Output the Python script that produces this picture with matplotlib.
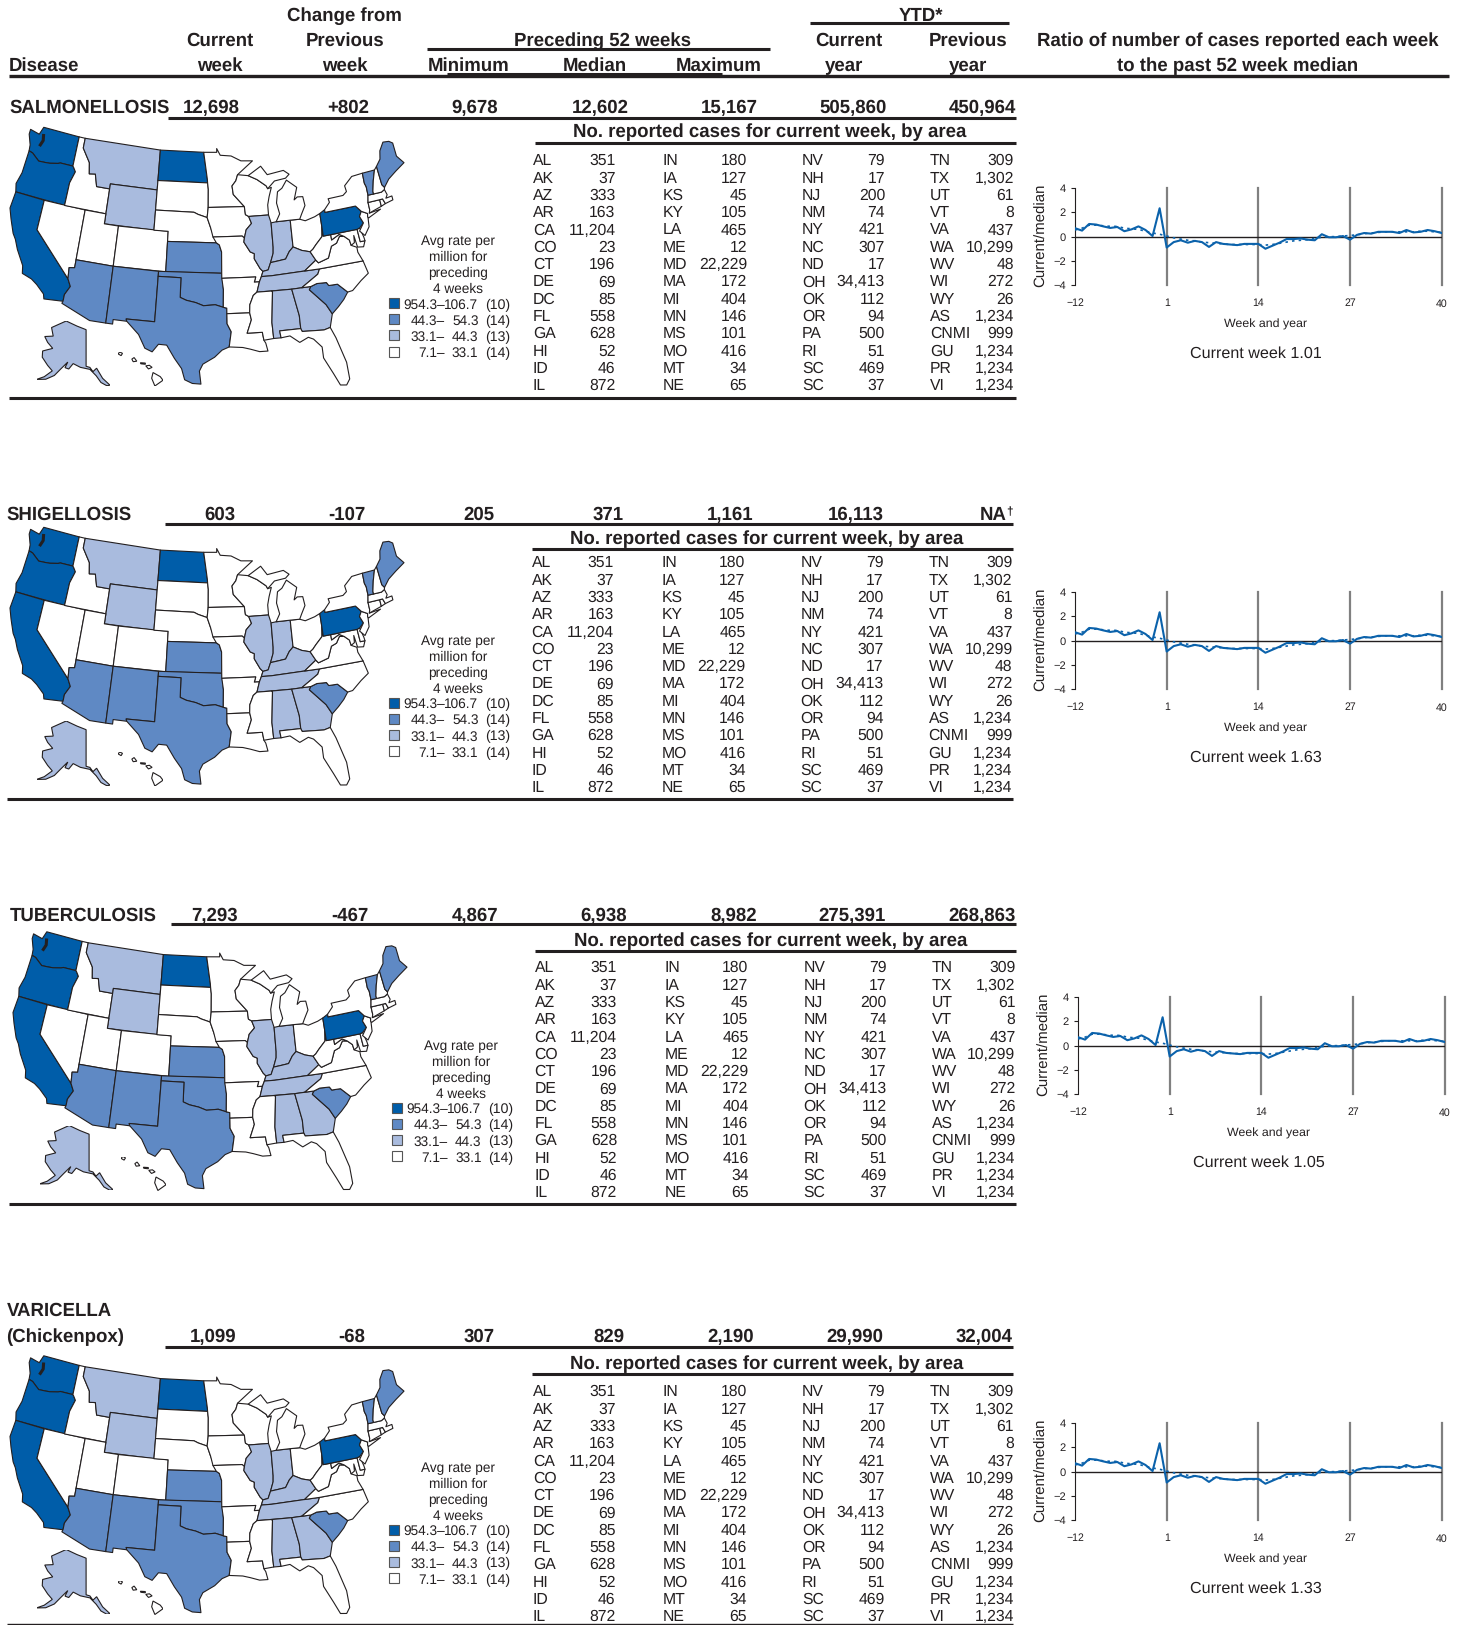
import numpy as np
import matplotlib
matplotlib.use("Agg")
import matplotlib.pyplot as plt
from matplotlib.patches import Rectangle

plt.rcParams['font.family'] = ['Liberation Sans', 'DejaVu Sans']
plt.rcParams['text.hinting'] = 'none'
plt.rcParams['text.hinting_factor'] = 8

W = 1460
H = 1625
INK = '#231f20'
BLUES = ['#005da9', '#5f89c4', '#a9bbde', '#ffffff']

# table values
DISEASES = [["SALMONELLOSIS"], ["SHIGELLOSIS"], ["TUBERCULOSIS"], ["VARICELLA", "(Chickenpox)"]]
CURRENT_WEEK = ["12,698", "603", "7,293", "1,099"]
CHANGE = ["+802", "-107", "-467", "-68"]
MINIMUM = ["9,678", "205", "4,867", "307"]
MEDIAN = ["12,602", "371", "6,938", "829"]
MAXIMUM = ["15,167", "1,161", "8,982", "2,190"]
YTD_CURRENT = ["505,860", "16,113", "275,391", "29,990"]
YTD_PREVIOUS = ["450,964", "NA", "268,863", "32,004"]
RATIO_NOW = ["1.01", "1.63", "1.05", "1.33"]

AREA_1 = ["AL", "AK", "AZ", "AR", "CA", "CO", "CT", "DE", "DC", "FL", "GA", "HI", "ID", "IL"]
COUNT_1 = ["351", "37", "333", "163", "11,204", "23", "196", "69", "85", "558", "628", "52", "46", "872"]
AREA_2 = ["IN", "IA", "KS", "KY", "LA", "ME", "MD", "MA", "MI", "MN", "MS", "MO", "MT", "NE"]
COUNT_2 = ["180", "127", "45", "105", "465", "12", "22,229", "172", "404", "146", "101", "416", "34", "65"]
AREA_3 = ["NV", "NH", "NJ", "NM", "NY", "NC", "ND", "OH", "OK", "OR", "PA", "RI", "SC", "SC"]
COUNT_3 = ["79", "17", "200", "74", "421", "307", "17", "34,413", "112", "94", "500", "51", "469", "37"]
AREA_4 = ["TN", "TX", "UT", "VT", "VA", "WA", "WV", "WI", "WY", "AS", "CNMI", "GU", "PR", "VI"]
COUNT_4 = ["309", "1,302", "61", "8", "437", "10,299", "48", "272", "26", "1,234", "999", "1,234", "1,234", "1,234"]

LEGEND_LOW = ["954.3–", "44.3–", "33.1–", "7.1–"]
LEGEND_HIGH = ["106.7", "54.3", "44.3", "33.1"]
LEGEND_N = ["(10)", "(14)", "(13)", "(14)"]
LEGEND_TITLE = ["Avg rate per", "million for", "preceding", "4 weeks"]

# weekly ratio series, week -12 to 40
WEEKS = np.arange(-12, 41)
RATIO = [0.7, 0.5, 1.05, 1.0, 0.85, 0.72, 0.8, 0.45, 0.6, 0.85, 0.55, 0.05, 2.35, -0.9,
         -0.45, -0.3, -0.5, -0.35, -0.45, -0.85, -0.45, -0.6, -0.65, -0.7, -0.6, -0.6, -0.6,
         -1.0, -0.75, -0.5, -0.2, -0.2, -0.15, -0.25, -0.3, 0.2, -0.05, -0.05, 0.05, -0.25,
         0.15, 0.3, 0.25, 0.4, 0.4, 0.4, 0.3, 0.55, 0.35, 0.4, 0.55, 0.45, 0.3]
TREND = [0.55, 0.7, 0.95, 0.95, 0.9, 0.85, 0.85, 0.7, 0.65, 0.6, 0.45, 0.3, 0.2, 0.05,
         -0.1, -0.2, -0.3, -0.35, -0.45, -0.5, -0.55, -0.6, -0.65, -0.65, -0.65, -0.65, -0.65,
         -0.7, -0.65, -0.55, -0.45, -0.35, -0.3, -0.25, -0.15, -0.05, 0.0, 0.0, 0.05, 0.1,
         0.15, 0.25, 0.3, 0.35, 0.4, 0.4, 0.4, 0.4, 0.4, 0.45, 0.45, 0.4, 0.35]
WEEK_TICKS = [-12, 1, 14, 27, 40]
RATIO_TICKS = [-4, -2, 0, 2, 4]

# rate class of each state, the rest are white
CLASS_1 = ["WA", "OR", "CA", "ND", "PA"]
CLASS_2 = ["KS", "OK", "TX", "NM", "AZ", "SC", "ME", "VT"]
CLASS_3 = ["MT", "WY", "IL", "IN", "KY", "TN", "AL", "GA", "AK"]

# state outlines, lon/lat
STATES = {
    "WA": [(-124.7,48.4),(-123.2,48.2),(-122.8,49),(-117.03,49),(-117.04,46),(-118.98,46),(-119.3,45.9),(-120.5,45.7),(-121.2,45.65),(-122.2,45.6),(-122.8,45.9),(-123.4,46.2),(-124,46.3),(-124.1,46.9),(-124.7,47.9)],
    "OR": [(-124,46.3),(-123.4,46.2),(-122.8,45.9),(-122.2,45.6),(-121.2,45.65),(-120.5,45.7),(-119.3,45.9),(-118.98,46),(-117.04,46),(-116.9,45.9),(-116.5,45.5),(-117,44.3),(-117.03,42),(-124.2,42),(-124.5,42.8),(-124.1,44)],
    "CA": [(-124.2,42),(-120,42),(-120,39),(-114.63,35),(-114.15,34.3),(-114.7,33.4),(-114.72,32.72),(-117.12,32.53),(-117.3,33),(-118.4,33.75),(-119.2,34.15),(-120.5,34.45),(-120.7,35.2),(-121.9,36.6),(-122.5,37.5),(-123,38),(-123.8,39.3),(-124.35,40.3)],
    "NV": [(-120,42),(-114.04,42),(-114.04,36.2),(-114.75,36.1),(-114.63,35),(-120,39)],
    "ID": [(-117.03,49),(-116.05,49),(-116.05,48),(-114.7,46.7),(-114.4,45.6),(-113.5,45.7),(-113,44.5),(-111.05,44.5),(-111.05,42),(-117.03,42),(-117,44.3),(-116.5,45.5),(-116.9,45.9),(-117.04,46)],
    "MT": [(-116.05,49),(-104.05,49),(-104.05,45),(-111.05,45),(-111.05,44.5),(-113,44.5),(-113.5,45.7),(-114.4,45.6),(-114.7,46.7),(-116.05,48)],
    "WY": [(-111.05,45),(-104.05,45),(-104.05,41),(-111.05,41)],
    "UT": [(-114.04,42),(-111.05,42),(-111.05,41),(-109.05,41),(-109.05,37),(-114.04,37)],
    "CO": [(-109.05,41),(-102.05,41),(-102.05,37),(-109.05,37)],
    "AZ": [(-114.04,37),(-109.05,37),(-109.05,31.33),(-111.07,31.33),(-114.81,32.5),(-114.72,32.72),(-114.7,33.4),(-114.15,34.3),(-114.63,35),(-114.75,36.1),(-114.04,36.2)],
    "NM": [(-109.05,37),(-103,37),(-103.05,32),(-106.6,32),(-106.5,31.78),(-108.2,31.78),(-108.2,31.33),(-109.05,31.33)],
    "ND": [(-104.05,49),(-97.2,49),(-96.6,46.3),(-96.56,45.94),(-104.05,45.94)],
    "SD": [(-104.05,45.94),(-96.56,45.94),(-96.45,45.3),(-96.45,43.5),(-96.6,42.5),(-97.9,42.8),(-98.5,43),(-104.05,43)],
    "NE": [(-104.05,43),(-98.5,43),(-97.9,42.8),(-96.6,42.5),(-96.1,41.5),(-95.3,40),(-102.05,40),(-102.05,41),(-104.05,41)],
    "KS": [(-102.05,40),(-95.3,40),(-94.9,39.8),(-94.6,39.1),(-94.62,37),(-102.05,37)],
    "OK": [(-103,37),(-94.62,37),(-94.43,35.4),(-94.48,33.64),(-95.5,33.9),(-97,33.8),(-98,34.1),(-99.2,34.3),(-100,34.56),(-100,36.5),(-103,36.5)],
    "TX": [(-106.6,32),(-103.05,32),(-103,36.5),(-100,36.5),(-100,34.56),(-99.2,34.3),(-98,34.1),(-97,33.8),(-95.5,33.9),(-94.48,33.64),(-94.04,33.55),(-94.04,32),(-93.55,31.2),(-93.84,29.7),(-94.7,29.4),(-95.6,28.7),(-97,28),(-97.4,27.3),(-97.2,26),(-98.2,26.05),(-99.1,26.4),(-99.5,27.5),(-100.4,28.5),(-101.4,29.77),(-102.4,29.8),(-103.1,29),(-104,29.3),(-104.9,30.6),(-106.5,31.78)],
    "MN": [(-97.2,49),(-95.15,49),(-95.15,49.38),(-94.6,48.7),(-92.9,48.6),(-91.4,48.07),(-89.6,48),(-92,46.7),(-92.3,46.1),(-92.9,45.6),(-92.75,44.75),(-91.2,43.5),(-96.45,43.5),(-96.45,45.3),(-96.56,45.94),(-96.6,46.3)],
    "IA": [(-96.45,43.5),(-91.2,43.5),(-91.1,42.7),(-90.65,42.5),(-90.3,41.8),(-91.1,41.2),(-91.4,40.4),(-91.7,40.6),(-95.77,40.58),(-96.1,41.5),(-96.6,42.5)],
    "MO": [(-95.77,40.58),(-91.7,40.6),(-91.4,40.4),(-91.5,40),(-90.7,39),(-90.15,38.8),(-90.2,38.3),(-89.5,37.3),(-89.15,37),(-89.4,36.5),(-89.7,36),(-90.37,36),(-90.15,36.5),(-94.62,36.5),(-94.62,37),(-94.6,39.1),(-94.9,39.8),(-95.3,40)],
    "AR": [(-94.62,36.5),(-90.15,36.5),(-90.37,36),(-89.7,36),(-90.1,35),(-90.6,34.7),(-91.1,33.8),(-91.17,33),(-94.04,33),(-94.04,33.55),(-94.48,33.64),(-94.43,35.4)],
    "LA": [(-94.04,33),(-91.17,33),(-91,32.3),(-91.6,31),(-89.73,31),(-89.6,30.2),(-89.4,29.9),(-89.2,29.1),(-90.2,29.1),(-91.3,29.4),(-92.2,29.6),(-93.84,29.7),(-93.55,31.2),(-94.04,32)],
    "WI": [(-92,46.7),(-90.4,46.55),(-89.1,46.1),(-87.8,45.4),(-87.6,45.1),(-87.05,45.2),(-87.5,44.3),(-87.8,43.5),(-87.8,42.5),(-90.65,42.5),(-91.1,42.7),(-91.2,43.5),(-92.75,44.75),(-92.9,45.6),(-92.3,46.1)],
    "IL": [(-90.65,42.5),(-87.8,42.5),(-87.53,41.7),(-87.53,39.3),(-87.6,38.7),(-88.05,37.8),(-88.45,37.1),(-89.15,37),(-89.5,37.3),(-90.2,38.3),(-90.15,38.8),(-90.7,39),(-91.5,40),(-91.4,40.4),(-91.1,41.2),(-90.3,41.8)],
    "IN": [(-87.53,41.7),(-86.8,41.76),(-84.8,41.76),(-84.82,39.1),(-85.4,38.7),(-86,38),(-87,37.9),(-88.05,37.8),(-87.6,38.7),(-87.53,39.3)],
    "OH": [(-84.8,41.76),(-83.45,41.73),(-82.7,41.5),(-81.3,41.75),(-80.52,41.98),(-80.52,40.64),(-80.7,39.7),(-81.7,39),(-82.2,38.6),(-82.6,38.4),(-83.7,38.65),(-84.82,39.1)],
    "KY": [(-89.4,36.5),(-89.15,37),(-88.45,37.1),(-88.05,37.8),(-87,37.9),(-86,38),(-85.4,38.7),(-84.82,39.1),(-83.7,38.65),(-82.6,38.4),(-82,37.5),(-83.67,36.6),(-88.05,36.5)],
    "TN": [(-90.1,35),(-89.7,36),(-89.4,36.5),(-88.05,36.5),(-83.67,36.6),(-81.68,36.59),(-82,36.1),(-84.3,35),(-85.6,34.98)],
    "MS": [(-91.17,33),(-91.1,33.8),(-90.6,34.7),(-90.1,35),(-88.2,35),(-88.1,34.9),(-88.47,31.9),(-88.4,30.3),(-89.6,30.2),(-89.73,31),(-91.6,31),(-91,32.3)],
    "AL": [(-88.2,35),(-85.6,34.98),(-85,32.3),(-85,31),(-87.6,31),(-87.5,30.3),(-88.4,30.3),(-88.47,31.9),(-88.1,34.9)],
    "GA": [(-85.6,34.98),(-83.1,35),(-83.35,34.7),(-81.5,33),(-80.9,32),(-81.4,30.7),(-82.2,30.55),(-84.86,30.7),(-85,31),(-85,32.3)],
    "FL": [(-87.6,31),(-85,31),(-84.86,30.7),(-82.2,30.55),(-81.4,30.7),(-80.9,29.6),(-80.1,27),(-80.05,25.3),(-80.5,24.75),(-81.2,24.85),(-81.8,26.1),(-82.7,27.8),(-82.7,28.9),(-83.6,29.8),(-84.2,30.05),(-85.3,29.65),(-86.4,30.4),(-87.5,30.3)],
    "SC": [(-83.1,35),(-82.3,35.2),(-81.05,35.15),(-80.8,34.82),(-79.67,34.8),(-78.55,33.85),(-79.2,33.2),(-80,32.6),(-80.9,32),(-81.5,33),(-83.35,34.7)],
    "NC": [(-84.3,35),(-82,36.1),(-81.68,36.59),(-75.85,36.55),(-75.5,35.25),(-76.6,34.7),(-77.9,33.9),(-78.55,33.85),(-79.67,34.8),(-80.8,34.82),(-81.05,35.15),(-82.3,35.2),(-83.1,35)],
    "VA": [(-83.67,36.6),(-81.68,36.59),(-75.85,36.55),(-76.3,37.5),(-76.3,38),(-77,38.3),(-77.1,38.85),(-77.7,39.3),(-78.35,39.4),(-78.9,38.8),(-79.65,38.6),(-80.3,37.5),(-81.7,37.2),(-82,37.5)],
    "WV": [(-82.6,38.4),(-82.2,38.6),(-81.7,39),(-80.7,39.7),(-80.52,40.64),(-80.52,39.72),(-79.48,39.72),(-79.48,39.2),(-78.35,39.6),(-77.7,39.3),(-78.35,39.4),(-78.9,38.8),(-79.65,38.6),(-80.3,37.5),(-81.7,37.2),(-82,37.5)],
    "MD": [(-79.48,39.72),(-75.79,39.72),(-75.7,38.46),(-75.05,38.45),(-75.4,37.9),(-76.2,38),(-76.4,39.2),(-76.5,38.5),(-77,38.3),(-77.1,38.85),(-77.7,39.3),(-78.35,39.6),(-79.48,39.2)],
    "DE": [(-75.79,39.72),(-75.4,39.8),(-75.1,38.8),(-75.05,38.45),(-75.7,38.46)],
    "PA": [(-80.52,41.98),(-79.76,42.27),(-79.76,42),(-75.35,42),(-74.7,41.36),(-75.1,40.9),(-74.75,40.2),(-75.4,39.8),(-75.79,39.72),(-80.52,39.72)],
    "NJ": [(-74.7,41.36),(-73.9,41),(-74,40.4),(-74.1,39.7),(-74.9,38.95),(-75.5,39.5),(-74.75,40.2),(-75.1,40.9)],
    "NY": [(-79.76,42),(-79.76,42.27),(-78.9,42.9),(-79,43.27),(-76.8,43.3),(-76.2,43.6),(-76.3,44.2),(-75,44.95),(-73.35,45.01),(-73.4,44),(-73.25,43.6),(-73.27,42.75),(-73.5,42.05),(-73.5,41.3),(-73.65,41),(-72,41.1),(-73.9,40.55),(-74,40.7),(-73.9,41),(-74.7,41.36),(-75.35,42)],
    "CT": [(-73.5,42.05),(-71.8,42.02),(-71.8,41.35),(-73.65,41),(-73.5,41.3)],
    "RI": [(-71.8,42.02),(-71.38,42.02),(-71.15,41.5),(-71.8,41.35)],
    "MA": [(-73.5,42.05),(-73.27,42.75),(-71.3,42.7),(-70.8,42.87),(-70.6,42.3),(-70.9,42),(-70,42.05),(-70,41.65),(-71.15,41.5),(-71.38,42.02),(-71.8,42.02)],
    "VT": [(-73.35,45.01),(-71.5,45.01),(-72.05,44),(-72.46,43),(-72.46,42.73),(-73.27,42.75),(-73.25,43.6),(-73.4,44)],
    "NH": [(-71.5,45.01),(-71.08,45.3),(-70.98,43.4),(-70.7,43.07),(-70.8,42.87),(-71.3,42.7),(-72.46,42.73),(-72.46,43),(-72.05,44)],
    "ME": [(-71.08,45.3),(-70.3,45.9),(-70,46.7),(-69.2,47.45),(-68.3,47.35),(-67.8,47.07),(-67.8,45.7),(-67,44.85),(-68.5,44.3),(-69.8,43.75),(-70.7,43.07),(-70.98,43.4)],
    "MI": [(-86.8,41.76),(-84.8,41.76),(-83.45,41.73),(-83.1,42.2),(-82.45,43),(-82.6,43.9),(-83.4,43.95),(-83.9,43.7),(-83.3,44.9),(-84.7,45.75),(-85.5,45),(-86.2,44.7),(-86.5,43.6),(-86.2,42.5)],
    "MI2": [(-90.4,46.55),(-88.4,47.4),(-87.5,46.5),(-85,46.75),(-84.2,46.3),(-84.8,45.95),(-86.5,45.8),(-87.6,45.1),(-87.8,45.4),(-89.1,46.1)],
}
PUGET = [(-122.6,47.2),(-122.35,47.7),(-122.5,48.2)]
ALASKA = [(-141,69.6),(-141,60.3),(-139,60),(-137.5,58.9),(-135.5,59.7),(-133,57),(-130,55),(-131.5,55),(-134,56),(-136,57.8),(-139,59.5),(-144,60),(-148,60.8),(-150,59.3),(-152,59.5),(-151,61),(-154,59),(-156.5,57),(-160,55.5),(-164,54.7),(-161,56),(-158,58),(-161,59),(-165,60.5),(-166,62),(-161,63.5),(-165,64.5),(-168,65.6),(-163,66.5),(-166,68.4),(-157,71.2),(-148,70.4)]
HAWAII = [
    [(-155.9,20.25),(-155.1,19.85),(-154.8,19.5),(-155.7,18.95),(-156.05,19.7)],
    [(-156.7,20.9),(-156.3,20.95),(-156,20.75),(-156.4,20.6)],
    [(-157.3,21.2),(-156.75,21.17),(-156.75,21.05),(-157.25,21.1)],
    [(-158.25,21.55),(-158,21.7),(-157.7,21.35),(-158.1,21.3)],
    [(-159.8,22.05),(-159.6,22.23),(-159.3,22.1),(-159.45,21.88)],
]

# panel layout, in pixels from the top left corner
ROW_Y = [159.7, 561.7, 966.7, 1390.7]
ROW_STEP = 17.3
VALUE_Y = [107, 514.5, 915, 1336]
TITLE_X = [9, 6.5, 9.3, 6.5]
RULE1_Y = [117.5, 524, 924, 1346.7]
RULE1_X = [168, 165, 171, 165]
RIGHT_X = [1016, 1013, 1016, 1013]
SUB_Y = [131, 538.5, 940.5, 1363]
SUB_X = [770, 767, 770.7, 767]
RULE2_Y = [143, 549, 951, 1374]
RULE2_X = [535, 532, 535, 532]
BOTTOM_Y = [397.7, 799, 1204, 1624]
MAP_DX = [0, 0, 3, 0]
MAP_DY = [0, 400, 804.5, 1228.5]
LEGEND_DY = [0, 399.5, 804.5, 1226.5]
TABLE_DX = [0, -1.5, 1.5, 0]
CHART_DX = [0, 0, 3, 0]
CHART_DY = [0, 404, 809, 1235]
CURRENT_X = [211, 220, 215, 213]
CHANGE_X = [348, 347, 350, 352]
MINIMUM_X = [475, 479, 475, 479]
MEDIAN_X = [600, 608, 604, 609]
MAXIMUM_X = [729, 730, 734, 730.7]
YTD_X = [853, 856, 852, 855]

LABEL_COLS = [533, 663, 802, 930]
COUNT_COLS = [615.5, 747, 885, 1014]


def albers(points, lon0, lat1, lat2, lat0):
    pts = np.array(points)
    lam = np.radians(pts[:, 0] - lon0)
    phi = np.radians(pts[:, 1])
    p1, p2, p0 = np.radians([lat1, lat2, lat0])
    n = (np.sin(p1) + np.sin(p2)) / 2
    c = np.cos(p1)**2 + 2*n*np.sin(p1)
    rho = np.sqrt(c - 2*n*np.sin(phi)) / n
    rho0 = np.sqrt(c - 2*n*np.sin(p0)) / n
    return rho*np.sin(n*lam), rho0 - rho*np.cos(n*lam)


def px_axes(x0, y0, x1, y1):
    a = fig.add_axes([x0/W, 1 - y1/H, (x1 - x0)/W, (y1 - y0)/H])
    a.patch.set_alpha(0)
    return a


def state_colour(name):
    name = name[:2]
    if name in CLASS_1:
        return BLUES[0]
    if name in CLASS_2:
        return BLUES[1]
    if name in CLASS_3:
        return BLUES[2]
    return BLUES[3]


def fit(a, shapes):
    xs = np.concatenate([s[0] for s in shapes])
    ys = np.concatenate([s[1] for s in shapes])
    a.set_xlim(xs.min(), xs.max())
    a.set_ylim(ys.min(), ys.max())
    a.axis('off')


def head(x, y, s, ha='center', size=13.4):
    bg.text(x, y + 5.6, s, ha=ha, va='baseline', fontsize=size, fontweight='bold', color=INK)


def body(x, y, s, ha='left', size=11.3):
    bg.text(x, y + 5.6, s, ha=ha, va='baseline', fontsize=size, color=INK)


def rule(x0, x1, y, lw=2.2):
    bg.plot([x0, x1], [y, y], color=INK, lw=lw, solid_capstyle='butt')


fig = plt.figure(figsize=(W/100, H/100), dpi=100)
bg = fig.add_axes([0, 0, 1, 1])
bg.set_xlim(0, W)
bg.set_ylim(H, 0)
bg.axis('off')

# column headers
head(344.5, 15, "Change from")
head(220, 40, "Current")
head(345, 40, "Previous")
head(603, 40, "Preceding 52 weeks")
head(849, 40, "Current")
head(968, 40, "Previous")
head(1237.5, 40, "Ratio of number of cases reported each week")
head(9, 65, "Disease", ha='left')
head(220, 65, "week")
head(345, 65, "week")
head(469, 65, "Minimum")
head(594.5, 65, "Median")
head(719, 65, "Maximum")
head(844, 65, "year")
head(968, 65, "year")
head(1237.5, 65, "to the past 52 week median")
head(921, 15, "YTD*")
rule(810, 1009, 22.5)
rule(427, 770, 49)
rule(447, 722, 73.5)
rule(9, 1449, 75.5, lw=2.4)

for i in range(4):
    # title and summary row
    if len(DISEASES[i]) == 1:
        head(TITLE_X[i], VALUE_Y[i], DISEASES[i][0], ha='left')
    else:
        head(TITLE_X[i], VALUE_Y[i] - 25.3, DISEASES[i][0], ha='left')
        head(TITLE_X[i], VALUE_Y[i], DISEASES[i][1], ha='left')
    head(CURRENT_X[i], VALUE_Y[i], CURRENT_WEEK[i])
    head(CHANGE_X[i], VALUE_Y[i], CHANGE[i])
    head(MINIMUM_X[i], VALUE_Y[i], MINIMUM[i])
    head(MEDIAN_X[i], VALUE_Y[i], MEDIAN[i])
    head(MAXIMUM_X[i], VALUE_Y[i], MAXIMUM[i])
    head(YTD_X[i], VALUE_Y[i], YTD_CURRENT[i])
    if YTD_PREVIOUS[i] == "NA":
        head(RIGHT_X[i] - 6, VALUE_Y[i], "NA", ha='right')
        bg.text(RIGHT_X[i], VALUE_Y[i] + 1, "†", ha='right', va='baseline', fontsize=8.5, fontweight='bold', color=INK)
    else:
        head(RIGHT_X[i], VALUE_Y[i], YTD_PREVIOUS[i], ha='right')
    rule(RULE1_X[i], RIGHT_X[i], RULE1_Y[i])
    head(SUB_X[i], SUB_Y[i], "No. reported cases for current week, by area")
    rule(RULE2_X[i], RIGHT_X[i], RULE2_Y[i])
    rule(TITLE_X[i], RIGHT_X[i], BOTTOM_Y[i], lw=2.2 if i < 3 else 1.0)

    # area table
    cols = [(AREA_1, COUNT_1), (AREA_2, COUNT_2), (AREA_3, COUNT_3), (AREA_4, COUNT_4)]
    for c in range(4):
        for r in range(14):
            y = ROW_Y[i] + r*ROW_STEP
            body(LABEL_COLS[c] + TABLE_DX[i], y, cols[c][0][r])
            body(COUNT_COLS[c] + TABLE_DX[i], y, cols[c][1][r], ha='right')

    # map
    dx = MAP_DX[i]
    dy = MAP_DY[i]
    ax_map = px_axes(10 + dx, 127.3 + dy, 404 + dx, 385 + dy)
    shapes = []
    for name in STATES:
        x, y = albers(STATES[name], -96, 29.5, 45.5, 37.5)
        shapes.append((x, y))
        ax_map.fill(x, y, facecolor=state_colour(name), edgecolor=INK, lw=0.8, joinstyle='round', clip_on=False)
    x, y = albers(PUGET, -96, 29.5, 45.5, 37.5)
    ax_map.plot(x, y, color=INK, lw=2.2)
    fit(ax_map, shapes)

    ax_ak = px_axes(36.5 + dx, 321 + dy, 110 + dx, 385.7 + dy)
    x, y = albers(ALASKA, -141, 55, 65, 50)
    ax_ak.fill(x, y, facecolor=state_colour("AK"), edgecolor=INK, lw=0.8)
    fit(ax_ak, [(x, y)])

    ax_hi = px_axes(118 + dx, 352 + dy, 163 + dx, 386 + dy)
    shapes = []
    for island in HAWAII:
        x, y = albers(island, -157, 8, 18, 13)
        shapes.append((x, y))
        ax_hi.fill(x, y, facecolor='white', edgecolor=INK, lw=0.8)
    fit(ax_hi, shapes)

    # map legend
    dy = LEGEND_DY[i]
    for r in range(4):
        body(458 + dx, 239.7 + 16*r + dy, LEGEND_TITLE[r], ha='center', size=9.8)
        y = 303 + 16.2*r + dy
        bg.add_patch(Rectangle((389 + dx, y - 5), 10, 10, facecolor=BLUES[r], edgecolor='#555555', lw=0.8))
        body(445 + dx, y, LEGEND_LOW[r], ha='right', size=9.8)
        body(478.5 + dx, y, LEGEND_HIGH[r], ha='right', size=9.8)
        body(510 + dx, y, LEGEND_N[r], ha='right', size=10.2)

    # ratio chart
    dx = CHART_DX[i]
    dy = CHART_DY[i]
    ax = px_axes(1075 + dx, 188.3 + dy, 1441.7 + dx, 285 + dy)
    for t in WEEK_TICKS[1:]:
        ax.axvline(t, color='#808080', lw=1.6, zorder=1, clip_on=False)
    ax.axhline(0, color=INK, lw=1.0, zorder=2)
    ax.plot(WEEKS, TREND, color='#0b62ab', lw=1.2, ls=(0, (1.5, 2.5)), zorder=3)
    ax.plot(WEEKS, RATIO, color='#0b62ab', lw=1.5, zorder=4)
    ax.set_xlim(-12, 40)
    ax.set_ylim(-4, 4)
    ax.set_xticks(WEEK_TICKS)
    ax.set_yticks(RATIO_TICKS)
    ax.tick_params(axis='x', length=0, pad=9.7, labelsize=7.6, labelcolor=INK)
    ax.tick_params(axis='y', length=3, width=0.8, pad=3.4, labelsize=8, color=INK, labelcolor=INK)
    for s in ['top', 'right', 'bottom']:
        ax.spines[s].set_visible(False)
    ax.spines['left'].set_linewidth(0.8)
    ax.spines['left'].set_color(INK)
    ax.set_ylabel("Current/median", fontsize=10.8, color=INK, va='center')
    ax.yaxis.set_label_coords(-0.092, 0.51)
    body(1266 + dx, 321.5 + dy, "Week and year", ha='center', size=8.9)
    body(1256 + dx, 352.5 + dy, "Current week " + RATIO_NOW[i], ha='center', size=11.6)

fig.savefig("out.png", dpi=100)
